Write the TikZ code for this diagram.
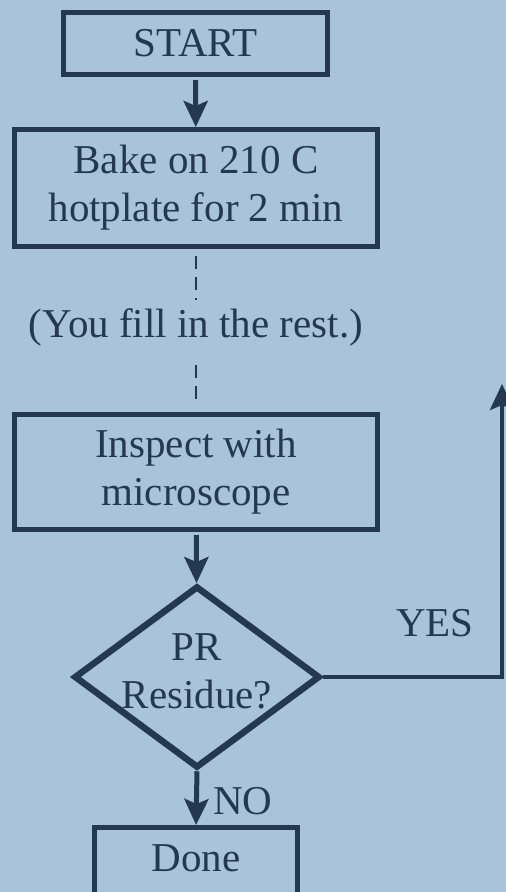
\documentclass[tikz,border=0pt]{standalone}
\usepackage{fontspec}
\setmainfont{Liberation Serif}
\usetikzlibrary{positioning, shapes.geometric, arrows.meta}

\definecolor{bgblue}{RGB}{169,195,220}
\definecolor{inkblue}{RGB}{36,56,82}

\begin{document}
\begin{tikzpicture}[x=1pt, y=-1pt,
    every node/.style={font=\fontsize{41}{48}\selectfont, text=inkblue},
    stepbox/.style={draw=inkblue, line width=5pt, align=center, inner sep=0pt},
    decision/.style={draw=inkblue, diamond, line width=6.5pt, inner sep=0pt},
    flow/.style={draw=inkblue, line width=5pt, -{Stealth[length=26pt, width=24pt, inset=5pt]}},
    fillin/.style={draw=inkblue, line width=1.5pt, dash pattern=on 13pt off 8pt}]
    \fill[bgblue] (0,0) rectangle (506,892);
    \useasboundingbox (0,0) rectangle (506,892);

    % Steps
    \node[stepbox, minimum width=264pt, minimum height=62pt] (start) at (195.5,43.5) {START};
    \node[stepbox, minimum width=363pt, minimum height=117pt] (bake) at (196,188)
        {Bake on 210 C\\hotplate for 2 min};
    \node[inner sep=0pt, minimum height=54pt] (rest) at (196,327) {(You fill in the rest.)};
    \node[stepbox, minimum width=363pt, minimum height=115pt] (inspect) at (196,472)
        {Inspect with\\microscope};
    \node[decision, minimum width=246pt, minimum height=182pt, aspect=1.35] (residue) at (197,677) {};
    \node[align=center] (residuetext) at (197,671) {PR\\Residue?};
    \node[stepbox, minimum width=203pt, text height=44pt, text depth=40pt, anchor=base] (done)
        at (196,871.5) {Done};

    % Connectors
    \draw[flow, shorten <=3pt] (start) -- (bake);
    \draw[fillin, shorten <=7pt] (bake.south) -- (rest.north);
    \draw[fillin, shorten <=11pt, shorten >=10pt] (rest.south) -- (inspect.north);
    \draw[flow, shorten <=3pt] (inspect) -- (residue);
    \draw[flow] (residue.south) -- (done.north);

    % Loop back on YES
    \coordinate (corner) at (502,677);
    \coordinate (loopback) at (502,384);
    \draw[flow, line width=4pt] (residue.east) -- (corner) -- (loopback);

    \node (yes) at (435,623) {YES};
    \node (no) at (243,801) {NO};
\end{tikzpicture}
\end{document}
